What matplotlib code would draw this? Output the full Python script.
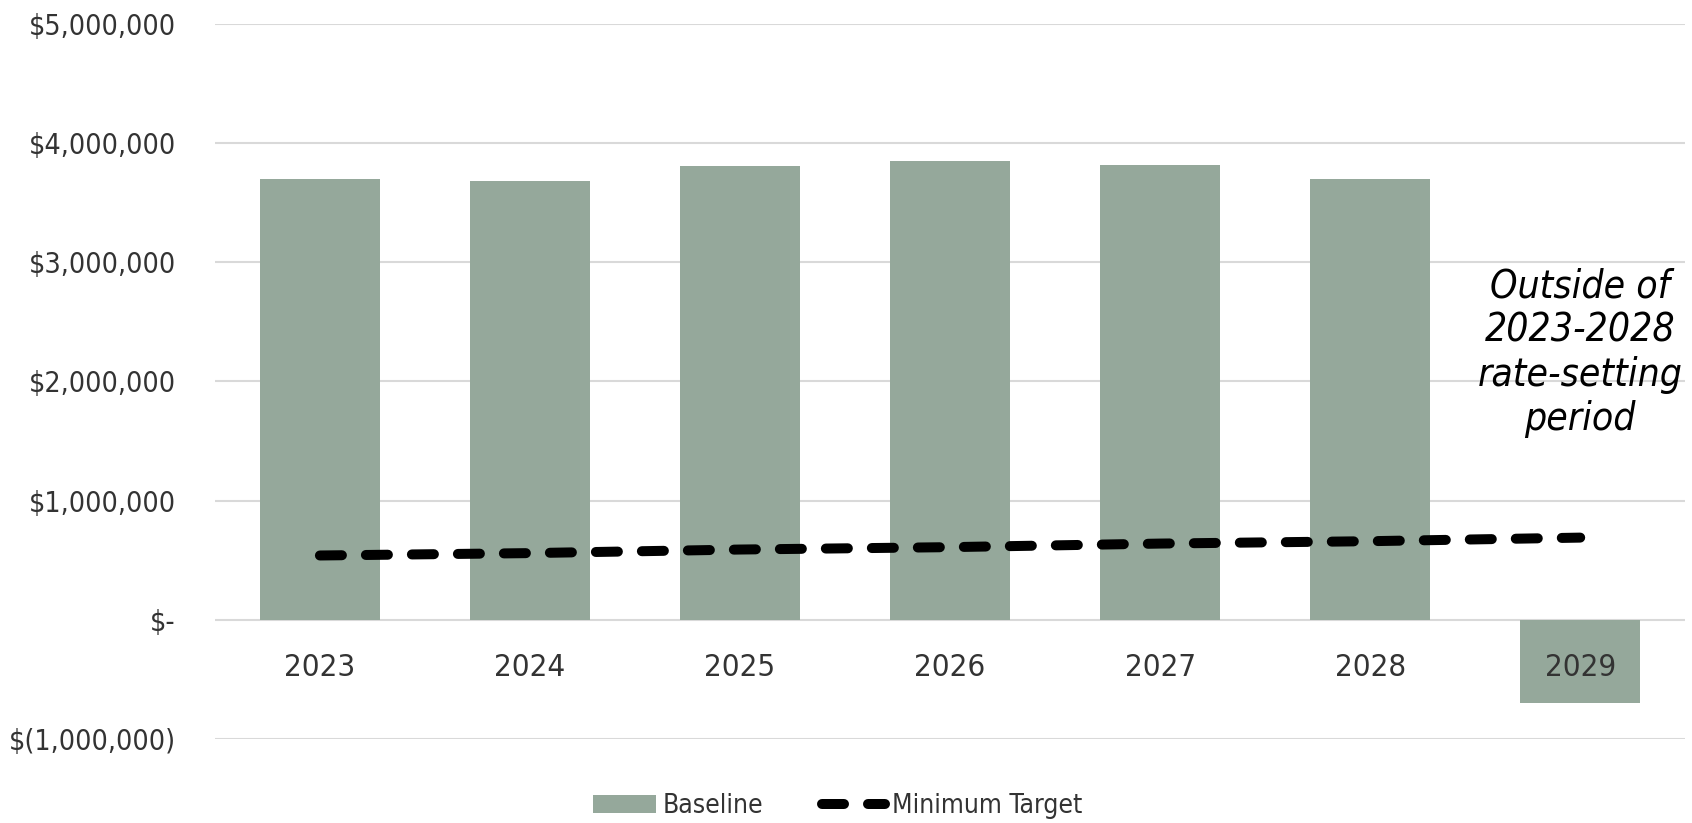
import matplotlib
matplotlib.use('Agg')
import matplotlib.pyplot as plt
import matplotlib.transforms as mtransforms
from matplotlib import font_manager
import numpy as np

# look for a narrow sans face; Excel chart uses Arial Narrow
narrow = [f for f in font_manager.fontManager.ttflist
          if f.stretch in ('condensed', 'semi-condensed', 'extra-condensed')
          or 'Narrow' in f.name or 'Condensed' in f.name]
if narrow:
    plt.rcParams['font.family'] = [narrow[0].name, 'DejaVu Sans']
    plt.rcParams['font.stretch'] = 'condensed'
    k = 1.0
else:
    plt.rcParams['font.family'] = ['Liberation Sans', 'DejaVu Sans']
    k = 0.85

years = ['2023', '2024', '2025', '2026', '2027', '2028', '2029']
baseline = [3.70e6, 3.68e6, 3.81e6, 3.85e6, 3.82e6, 3.70e6, -0.70e6]
min_target = [0.54e6, 0.56e6, 0.59e6, 0.61e6, 0.64e6, 0.66e6, 0.69e6]
yticks = [-1e6, 0, 1e6, 2e6, 3e6, 4e6, 5e6]
ytick_labels = ['$(1,000,000)', '$-', '$1,000,000', '$2,000,000',
                '$3,000,000', '$4,000,000', '$5,000,000']
note = 'Outside of\n2023-2028\nrate-setting\nperiod'

bar_color = '#95a89b'
text_color = '#333333'

fig = plt.figure(figsize=(16.92, 8.23), dpi=100)
ax = fig.add_axes([0.127, 0.102, 0.869, 0.869])

x = np.arange(len(years))
bars = ax.bar(x, baseline, width=0.57, color=bar_color, label='Baseline', zorder=2)
line, = ax.plot(x, min_target, color='black', lw=7.2, dashes=(2.2, 2.4),
                dash_capstyle='round', label='Minimum Target', zorder=3)

ax.set_xlim(-0.5, 6.5)
ax.set_ylim(-1e6, 5e6)
ax.set_yticks(yticks)
ax.set_yticklabels(ytick_labels, fontsize=20.5 * k, color=text_color)
ax.tick_params(axis='y', length=0, pad=28)
ax.set_xticks([])
ax.grid(axis='y', color='#d9d9d9', lw=1.5, zorder=0)
for s in ax.spines.values():
    s.set_visible(False)

# category labels sit just under the zero line
offs = mtransforms.offset_copy(ax.transData, fig=fig, y=-48, units='dots')
for i, yr in enumerate(years):
    ax.text(i, 0, yr, transform=offs, ha='center', va='center',
            fontsize=22.5 * k, color=text_color, zorder=4)

ax.text(6, 2.24e6, note, ha='center', va='center', fontsize=28 * k,
        style='italic', color='black', linespacing=1.2)

fig.legend([bars, line], ['Baseline', 'Minimum Target'],
           loc='lower center', bbox_to_anchor=(0.495, -0.024), ncol=2,
           frameon=False, fontsize=19 * k, handlelength=2.4,
           handleheight=0.7, columnspacing=2.2, handletextpad=0.25,
           labelcolor=text_color)

fig.savefig('out.png', dpi=100)
